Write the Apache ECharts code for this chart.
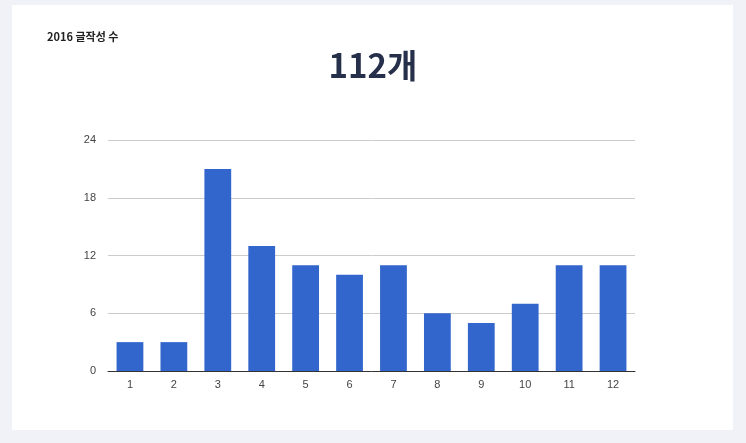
<!DOCTYPE html>
<html><head><meta charset="utf-8">
<script src="https://cdn.jsdelivr.net/npm/echarts@6/dist/echarts.min.js"></script>
<style>
html,body{margin:0;padding:0;background:#f1f2f8;}
#card{position:absolute;left:12px;top:5px;width:721px;height:425px;background:#fff;}
#c{position:absolute;left:0;top:0;width:746px;height:443px;}
</style></head><body>
<div id="card"></div>
<div id="c"></div>
<script>
const categories = ['1','2','3','4','5','6','7','8','9','10','11','12'];
const values = [3,3,21,13,11,10,11,6,5,7,11,11];
const chartTitle = '2016 글작성 수';
const total = '112개';
const chart = echarts.init(document.getElementById('c'));
chart.setOption({
  backgroundColor:'transparent',
  title:[
    {text:chartTitle,left:42,top:26,textStyle:{fontSize:11,fontWeight:'bold',color:'#222',fontFamily:'Noto Sans CJK KR'}},
    {text:total,left:'center',top:44,textStyle:{fontSize:33,fontWeight:'bold',color:'#27304a',fontFamily:'Noto Sans CJK KR'}}
  ],
  grid:{left:108,right:111,top:140,bottom:72},
  xAxis:{type:'category',data:categories,axisTick:{show:false},
    axisLine:{lineStyle:{color:'#333'}},axisLabel:{color:'#444',fontSize:11,margin:8}},
  yAxis:{type:'value',min:0,max:24,interval:6,axisLine:{show:false},axisTick:{show:false},
    axisLabel:{color:'#444',fontSize:11,margin:12},splitLine:{lineStyle:{color:'#ccc'}}},
  series:[{type:'bar',data:values,barWidth:'61%',itemStyle:{color:'#3366cc'}}]
});
</script></body></html>
